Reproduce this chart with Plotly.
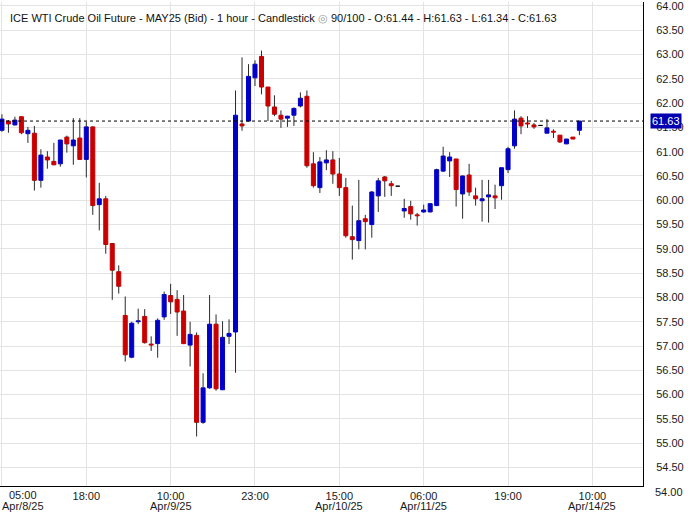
import numpy as np
import plotly.graph_objects as go

# hourly candles, oldest first (ICE WTI MAY25, bid)
opens = [61.44, 61.63, 61.55, 61.72, 61.37, 61.38, 60.41, 60.89, 60.80, 60.75,
         61.30, 61.12, 61.28, 60.84, 61.51, 59.91, 60.03, 59.11, 58.53, 57.63,
         56.77, 57.50, 57.61, 57.04, 57.05, 57.60, 58.04, 57.96, 57.72, 57.02,
         57.22, 55.43, 56.14, 57.45, 56.10, 57.20, 57.29, 61.57, 61.63, 62.52,
         62.96, 62.33, 61.92, 61.75, 61.69, 61.75, 61.94, 62.14, 60.75, 60.26,
         60.77, 60.83, 60.54, 60.26, 59.25, 59.17, 59.62, 59.50, 60.09, 60.48,
         60.34, 60.29, 59.78, 59.87, 59.70, 59.76, 59.76, 59.89, 60.60, 60.81,
         60.85, 60.13, 60.52, 60.09, 59.99, 60.07, 60.09, 60.30, 60.63, 61.12,
         61.69, 61.59, 61.55, 61.54, 61.38, 61.42, 61.34, 61.16, 61.30, 61.44]
highs = [61.77, 61.65, 61.72, 61.72, 61.51, 61.53, 61.05, 61.01, 61.18, 61.24,
         61.33, 61.69, 61.69, 61.62, 61.52, 60.36, 60.09, 59.12, 58.66, 58.02,
         57.50, 57.77, 57.76, 57.20, 57.57, 58.12, 58.28, 58.15, 58.05, 57.50,
         57.28, 56.44, 58.05, 57.65, 57.51, 57.55, 62.26, 62.94, 62.80, 62.88,
         63.08, 62.33, 62.16, 61.85, 61.74, 61.91, 62.22, 62.26, 60.99, 60.89,
         61.03, 61.01, 60.87, 60.46, 59.89, 60.42, 59.70, 60.19, 60.46, 60.50,
         60.40, 60.29, 60.03, 59.99, 59.74, 59.91, 59.93, 60.65, 61.10, 60.99,
         60.85, 60.51, 60.75, 60.26, 60.42, 60.42, 60.32, 60.67, 61.10, 61.85,
         61.73, 61.73, 61.59, 61.54, 61.67, 61.46, 61.34, 61.26, 61.30, 61.63]
lows = [61.41, 61.39, 61.54, 61.36, 61.18, 60.20, 60.26, 60.65, 60.72, 60.69,
        60.98, 60.73, 60.84, 60.47, 59.70, 59.38, 58.90, 57.95, 58.08, 56.68,
        56.75, 57.45, 57.05, 56.90, 56.76, 57.54, 57.66, 57.21, 57.04, 56.58,
        55.14, 55.40, 56.12, 56.08, 56.10, 57.04, 56.45, 61.43, 61.62, 62.35,
        62.18, 61.63, 61.73, 61.49, 61.51, 61.53, 61.91, 60.67, 60.26, 60.15,
        60.62, 60.34, 60.09, 59.23, 58.78, 58.99, 58.99, 59.23, 59.76, 60.07,
        60.09, 60.29, 59.64, 59.60, 59.48, 59.74, 59.75, 59.89, 60.58, 60.48,
        59.87, 59.62, 60.09, 59.89, 59.56, 59.54, 59.82, 60.01, 60.56, 61.06,
        61.36, 61.49, 61.47, 61.54, 61.38, 61.28, 61.18, 61.16, 61.26, 61.34]
closes = [61.67, 61.57, 61.65, 61.39, 61.44, 60.41, 60.93, 60.83, 60.73, 61.24,
          61.16, 61.24, 60.84, 61.51, 59.89, 60.03, 59.09, 58.56, 58.23, 56.82,
          57.47, 57.52, 57.07, 57.02, 57.53, 58.06, 57.91, 57.70, 57.05, 57.24,
          55.43, 56.14, 57.45, 56.12, 57.18, 57.26, 61.75, 61.53, 62.55, 62.80,
          62.33, 61.94, 61.77, 61.67, 61.73, 61.89, 62.10, 60.71, 60.30, 60.79,
          60.83, 60.54, 60.26, 59.27, 59.19, 59.58, 59.56, 60.17, 60.40, 60.40,
          60.30, 60.29, 59.83, 59.72, 59.68, 59.80, 59.93, 60.63, 60.91, 60.89,
          60.22, 60.50, 60.17, 60.03, 60.03, 60.11, 60.05, 60.67, 61.06, 61.67,
          61.53, 61.57, 61.51, 61.54, 61.49, 61.40, 61.20, 61.26, 61.26, 61.63]

last_price = 61.63

# x axis labels sit on bar index positions
tick_idx = [0, 13, 26, 39, 52, 65, 78, 91]
tick_time = ['05:00', '18:00', '10:00', '23:00', '15:00', '06:00', '19:00', '10:00']
date_idx = [0, 26, 52, 65, 91]
tick_date = ['Apr/8/25', 'Apr/9/25', 'Apr/10/25', 'Apr/11/25', 'Apr/14/25']

price_ticks = np.arange(54.0, 64.01, 0.5)

UP = '#0000c8'
DOWN = '#c80000'
FLAT = '#000000'
FONT = 'Liberation Sans, Arial, sans-serif'

o = np.array(opens)
h = np.array(highs)
l = np.array(lows)
c = np.array(closes)
x = np.arange(len(o))
body_lo = np.minimum(o, c)
body_hi = np.maximum(o, c)
colors = [UP if cc > oo else DOWN if cc < oo else FLAT for oo, cc in zip(o, c)]

# wicks: upper and lower segments only, so they never cross the body
wx, wy = [], []
for i in range(len(x)):
    wx += [x[i], x[i], None, x[i], x[i], None]
    wy += [l[i], body_lo[i], None, body_hi[i], h[i], None]

fig = go.Figure()
fig.add_trace(go.Bar(
    x=x, base=body_lo, y=body_hi - body_lo,
    width=0.62,
    marker=dict(color=colors, line=dict(color=colors, width=1)),
    hoverinfo='skip',
))
fig.add_trace(go.Scatter(
    x=wx, y=wy, mode='lines',
    line=dict(color='#2a2a2a', width=1),
    hoverinfo='skip',
))

x_range = [-0.3, 98.8]
y_range = [54.12, 64.08]

fig.add_shape(
    type='line', xref='paper', x0=0, x1=1,
    y0=last_price, y1=last_price,
    line=dict(color='black', width=1, dash='3px,3px'),
)

fig.update_layout(
    width=688, height=512,
    margin=dict(l=0, r=45, t=0, b=26),
    paper_bgcolor='white', plot_bgcolor='white',
    showlegend=False,
    font=dict(family=FONT, size=11, color='#1a1a1a'),
    xaxis=dict(
        range=x_range, tickvals=tick_idx,
        ticktext=[''] + tick_time[1:],
        showgrid=True, gridcolor='#e3e3e3', gridwidth=1,
        zeroline=False, showline=True, linecolor='black', linewidth=1,
        ticks='', ticklabelstandoff=0,
        rangeslider=dict(visible=False),
        fixedrange=True,
    ),
    yaxis=dict(
        side='right', range=y_range,
        tickvals=price_ticks,
        ticktext=['%.2f' % v for v in price_ticks],
        showgrid=True, gridcolor='#e3e3e3', gridwidth=1,
        zeroline=False, showline=True, linecolor='black', linewidth=1,
        ticks='', ticklabelstandoff=10,
        ticklabeloverflow='allow',
    ),
)

plot_h = 512 - 26

# the first time label is nudged right so it stays on the page
fig.add_annotation(xref='x', x=tick_idx[0], xanchor='center', xshift=21,
                   yref='paper', y=-9 / plot_h, yanchor='middle',
                   text=tick_time[0], showarrow=False)

# second label row: dates under the time labels
for k, (di, dt) in enumerate(zip(date_idx, tick_date)):
    fig.add_annotation(xref='x', x=di, xanchor='center',
                       xshift=21 if k == 0 else 0,
                       yref='paper', y=-20 / plot_h, yanchor='middle',
                       text=dt, showarrow=False)

# lowest price label falls just under the frame
fig.add_annotation(xref='paper', x=1, xanchor='left', xshift=10,
                   yref='paper', y=(54.0 - y_range[0]) / (y_range[1] - y_range[0]),
                   yanchor='middle', text='%.2f' % 54.0, showarrow=False)

# last price tag on the axis
fig.add_annotation(xref='paper', x=1, xanchor='left', xshift=7,
                   yref='y', y=last_price, yanchor='middle',
                   text='%.2f' % last_price, showarrow=False,
                   bgcolor='#0000b0', borderpad=1,
                   font=dict(color='white', size=11))

title = ('ICE WTI Crude Oil Future - MAY25 (Bid) - 1 hour - Candlestick '
         '<span style="color:#9a9a9a">◎</span> 90/100 - O:%.2f - H:%.2f - L:%.2f - C:%.2f'
         % (opens[-1], highs[-1], lows[-1], closes[-1]))
fig.add_annotation(xref='paper', x=0, xanchor='left', xshift=8,
                   yref='paper', y=(plot_h - 16) / plot_h, yanchor='middle',
                   text=title, showarrow=False,
                   font=dict(size=11, color='#111111'))

fig.write_html('out.html', config={'displayModeBar': False},
               post_script="document.body.style.margin='0';")
